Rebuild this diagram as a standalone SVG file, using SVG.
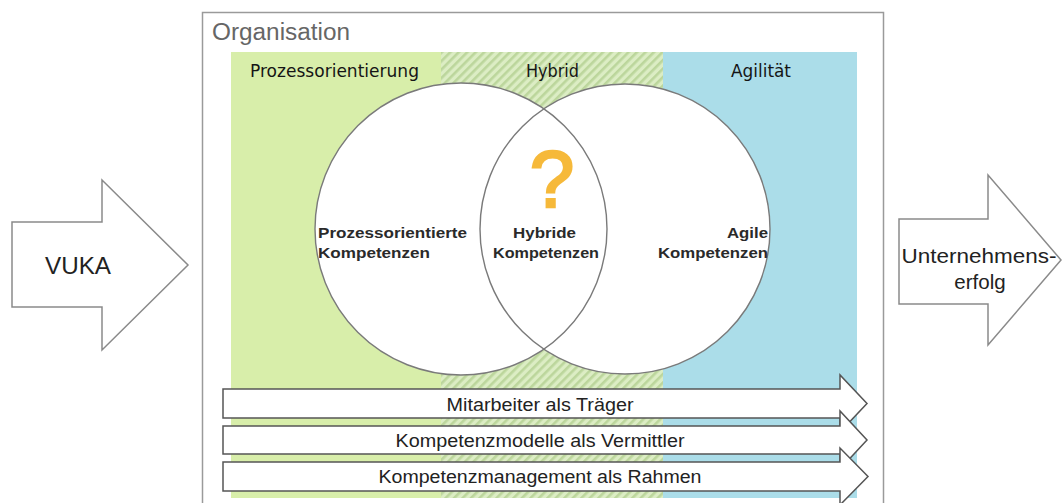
<svg xmlns="http://www.w3.org/2000/svg" width="1063" height="503" viewBox="0 0 1063 503">
<defs>
<pattern id="hatch" width="6" height="6" patternUnits="userSpaceOnUse" patternTransform="rotate(45)">
<rect width="6" height="6" fill="#dcedc4"/>
<rect width="2.6" height="6" fill="#bcd69c"/>
</pattern>
</defs>
<style>
.big{fill:#fff;stroke:#8a8a8a;stroke-width:1.5;stroke-linejoin:miter}
.band{fill:#fff;stroke:#555;stroke-width:1.5;stroke-linejoin:miter}
.circ{fill:#fff}
.ring{fill:none;stroke:#7a7a7a;stroke-width:1.4}
.ar{font-family:"Liberation Sans",Arial,sans-serif;fill:#222}
.hd{font-family:"DejaVu Sans","Noto Sans",sans-serif;font-size:18px;fill:#151515}
.cl{font-family:"Liberation Sans",Arial,sans-serif;font-weight:bold;font-size:15.5px;fill:#2a2a2a}
</style>
<rect width="1063" height="503" fill="#fff"/>

<g id="organisation">
<path d="M202.5,503 V12.5 H883.5 V503" fill="none" stroke="#9a9a9a" stroke-width="1.5"/>
<text x="212" y="40" font-family="Liberation Sans,Arial,sans-serif" font-size="23" fill="#666" textLength="138" lengthAdjust="spacingAndGlyphs">Organisation</text>
</g>

<g id="panels">
<rect x="231" y="52" width="210" height="446" fill="#d8eeaa"/>
<rect x="441" y="52" width="222" height="446" fill="url(#hatch)"/>
<rect x="663" y="52" width="194" height="446" fill="#abdde9"/>
<text class="hd" x="250" y="77" textLength="169" lengthAdjust="spacingAndGlyphs">Prozessorientierung</text>
<text class="hd" x="526" y="77" textLength="53" lengthAdjust="spacingAndGlyphs">Hybrid</text>
<text class="hd" x="731" y="77" textLength="60" lengthAdjust="spacingAndGlyphs">Agilität</text>
</g>

<g id="venn">
<circle class="circ" cx="461" cy="229" r="146"/>
<circle class="circ" cx="625" cy="229" r="145"/>
<circle class="ring" cx="461" cy="229" r="146"/>
<circle class="ring" cx="625" cy="229" r="145"/>
</g>

<g id="prozess-kompetenzen">
<text class="cl" x="318" y="238" textLength="149" lengthAdjust="spacingAndGlyphs">Prozessorientierte</text>
<text class="cl" x="318" y="258" textLength="112" lengthAdjust="spacingAndGlyphs">Kompetenzen</text>
</g>

<g id="hybride-kompetenzen">
<text x="552" y="207" text-anchor="middle" font-family="Liberation Sans,Arial,sans-serif" font-size="80" fill="#f6b93a" stroke="#f6b93a" stroke-width="2.5">?</text>
<text class="cl" x="513" y="238" textLength="63" lengthAdjust="spacingAndGlyphs">Hybride</text>
<text class="cl" x="493" y="258" textLength="106" lengthAdjust="spacingAndGlyphs">Kompetenzen</text>
</g>

<g id="agile-kompetenzen">
<text class="cl" x="727" y="238" textLength="41" lengthAdjust="spacingAndGlyphs">Agile</text>
<text class="cl" x="658" y="258" textLength="110" lengthAdjust="spacingAndGlyphs">Kompetenzen</text>
</g>

<g id="vuka">
<polygon class="big" points="12,222 102,222 102,180 188,265 102,350 102,307 12,307"/>
<text class="ar" x="78" y="274" text-anchor="middle" font-size="23" fill="#333" textLength="66" lengthAdjust="spacingAndGlyphs">VUKA</text>
</g>

<g id="unternehmenserfolg">
<polygon class="big" points="899,219 988,219 988,175 1061,260 988,345 988,304 899,304"/>
<text class="ar" x="979" y="263" text-anchor="middle" font-size="20.5" fill="#333" textLength="155" lengthAdjust="spacingAndGlyphs">Unternehmens-</text>
<text class="ar" x="980" y="289" text-anchor="middle" font-size="20.5" fill="#333">erfolg</text>
</g>

<g id="connectors">
<g id="mitarbeiter">
<polygon class="band" points="223,389 840,389 840,375 867,403.5 840,432 840,418 223,418"/>
<text class="ar" x="540" y="411" text-anchor="middle" font-size="17.5" textLength="187" lengthAdjust="spacingAndGlyphs">Mitarbeiter als Träger</text>
</g>
<g id="kompetenzmodelle">
<polygon class="band" points="223,426 840,426 840,411 867,440 840,469 840,454 223,454"/>
<text class="ar" x="540" y="447" text-anchor="middle" font-size="17.5" textLength="289" lengthAdjust="spacingAndGlyphs">Kompetenzmodelle als Vermittler</text>
</g>
<g id="kompetenzmanagement">
<polygon class="band" points="223,462 840,462 840,448 868,476.5 840,505 840,491 223,491"/>
<text class="ar" x="540" y="483" text-anchor="middle" font-size="17.5" textLength="323" lengthAdjust="spacingAndGlyphs">Kompetenzmanagement als Rahmen</text>
</g>
</g>
</svg>
